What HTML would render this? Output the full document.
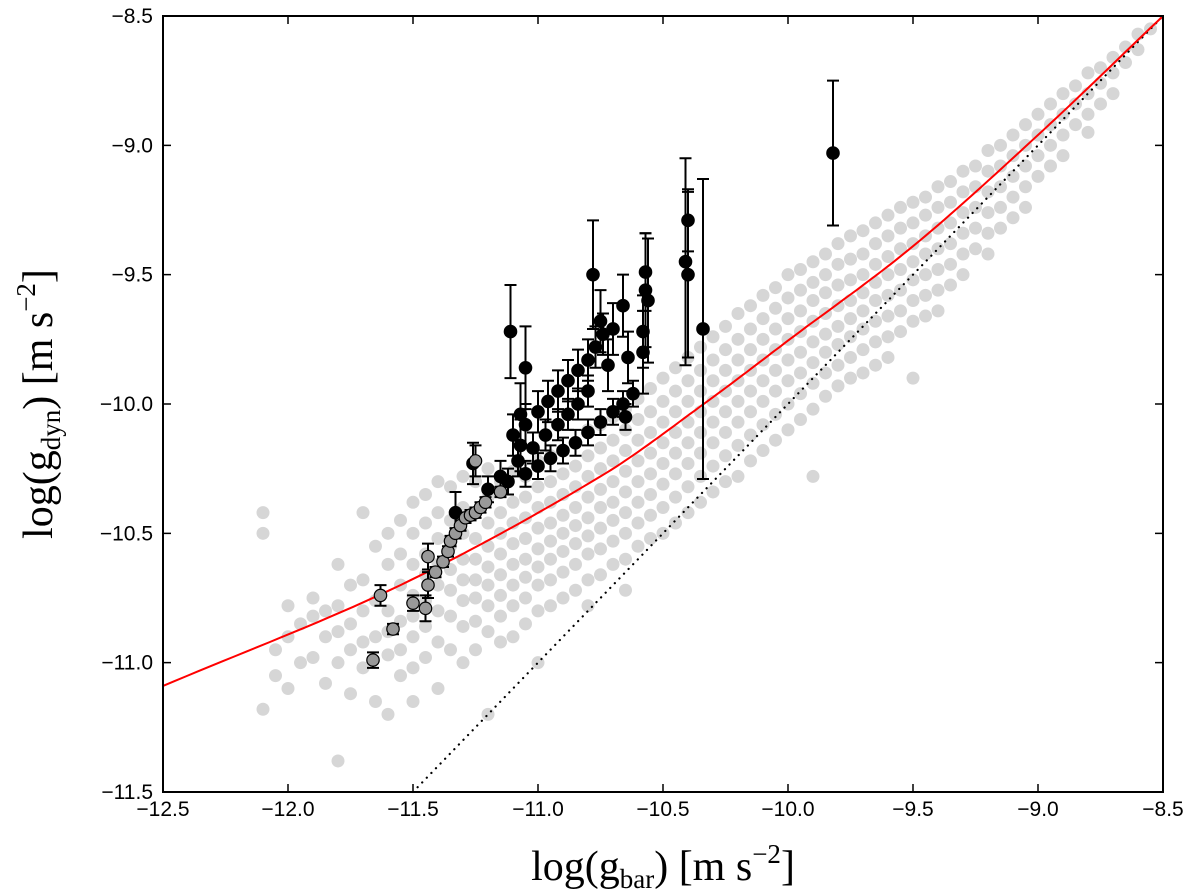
<!DOCTYPE html>
<html><head><meta charset="utf-8"><style>
html,body{margin:0;padding:0;background:#fff;}
svg{display:block;}
.tk{font-family:"Liberation Sans",sans-serif;font-size:21px;fill:#000;}
.lab{font-family:"Liberation Serif",serif;font-size:42px;fill:#000;}
</style></head><body>
<svg id="chart" width="1200" height="890">
<g id="cloud"></g>
<path id="onetoone" fill="none" stroke="#000" stroke-width="2.2" stroke-dasharray="0.1 6.5" stroke-linecap="round"/>
<path id="rar" fill="none" stroke="#f00" stroke-width="2"/>
<g id="errs"></g>
<g id="pts"></g>
<rect x="163" y="16" width="1000" height="776" fill="none" stroke="#000" stroke-width="2"/>
<g id="ticks"></g>
<text class="lab" x="663" y="880" text-anchor="middle">log(g<tspan font-size="27" dy="8">bar</tspan><tspan dy="-8">) [m s</tspan><tspan font-size="27" dy="-17">−2</tspan><tspan dy="17">]</tspan></text>
<text class="lab" transform="translate(52,404) rotate(-90)" text-anchor="middle">log(g<tspan font-size="27" dy="8">dyn</tspan><tspan dy="-8">) [m s</tspan><tspan font-size="27" dy="-17">−2</tspan><tspan dy="17">]</tspan></text>
</svg>
<script>
const xTicks=[-12.5,-12.0,-11.5,-11.0,-10.5,-10.0,-9.5,-9.0,-8.5];
const yTicks=[-8.5,-9.0,-9.5,-10.0,-10.5,-11.0,-11.5];
const curveX=[-12.5,-11.55,-10.75,-10.33,-10.0,-9.5,-9.0,-8.5];
const curveY=[-11.09,-10.70,-10.28,-9.995,-9.755,-9.39,-8.96,-8.5];
const cloudX=[-12.1,-12.05,-12.0,-11.95,-11.9,-11.85,-11.8,-11.75,-11.7,-11.65,-11.6,-11.55,-11.5,-11.45,-11.4,-11.35,-11.3,-11.25,-11.2,-11.15,-11.1,-11.05,-11.0,-10.95,-10.9,-10.85,-10.8,-10.75,-10.7,-10.65,-10.6,-10.55,-10.5,-10.45,-10.4,-10.35,-10.3,-10.25,-10.2,-10.15,-10.1,-10.05,-10.0,-9.95,-9.9,-9.85,-9.8,-9.75,-9.7,-9.65,-9.6,-9.55,-9.5,-9.45,-9.4,-9.35,-9.3,-9.25,-9.2,-9.15,-9.1,-9.05,-9.0,-8.95,-8.9,-8.85,-8.8,-8.75,-8.7,-8.65,-8.6,-8.55];
const cloudY=[
[-10.42,-10.5,-11.18],[-10.95,-11.05],[-10.78,-10.9,-11.1],[-10.85,-11.0],[-10.75,-10.82,-10.98],[-10.8,-10.9,-11.08],
[-10.62,-10.78,-10.88,-11.0,-11.38],[-10.7,-10.85,-10.95,-11.12],[-10.42,-10.68,-10.8,-10.92,-11.02],[-10.55,-10.76,-10.9,-11.15],
[-10.5,-10.62,-10.8,-10.88,-10.97,-11.2],[-10.45,-10.58,-10.7,-10.84,-10.95,-11.05],[-10.38,-10.5,-10.62,-10.74,-10.82,-10.9,-11.02,-11.15],
[-10.35,-10.46,-10.58,-10.66,-10.76,-10.86,-10.98],[-10.3,-10.42,-10.52,-10.62,-10.7,-10.8,-10.92,-11.1],[-10.32,-10.45,-10.55,-10.64,-10.72,-10.82,-10.95],
[-10.28,-10.4,-10.5,-10.6,-10.68,-10.76,-10.86,-11.0],[-10.3,-10.42,-10.52,-10.6,-10.68,-10.75,-10.84,-10.95],[-10.25,-10.36,-10.46,-10.55,-10.63,-10.7,-10.78,-10.88,-11.2],
[-10.3,-10.42,-10.5,-10.58,-10.66,-10.74,-10.82,-10.92],[-10.26,-10.38,-10.46,-10.54,-10.62,-10.7,-10.78,-10.9],[-10.28,-10.36,-10.44,-10.52,-10.6,-10.67,-10.75,-10.85],
[-10.22,-10.32,-10.4,-10.48,-10.56,-10.63,-10.7,-10.8,-11.0],[-10.2,-10.3,-10.38,-10.46,-10.53,-10.6,-10.68,-10.78],[-10.18,-10.27,-10.35,-10.43,-10.5,-10.57,-10.65,-10.75],
[-10.15,-10.24,-10.32,-10.4,-10.47,-10.54,-10.62,-10.72],[-10.1,-10.2,-10.28,-10.36,-10.44,-10.51,-10.58,-10.68,-10.78],[-10.08,-10.17,-10.25,-10.33,-10.4,-10.48,-10.56,-10.66],
[-10.05,-10.14,-10.22,-10.3,-10.38,-10.45,-10.53,-10.62],[-10.02,-10.1,-10.18,-10.26,-10.34,-10.42,-10.5,-10.6,-10.72],[-9.98,-10.06,-10.14,-10.22,-10.3,-10.38,-10.46,-10.55],
[-9.94,-10.03,-10.11,-10.19,-10.27,-10.35,-10.43,-10.52],[-9.9,-9.99,-10.07,-10.15,-10.23,-10.31,-10.4,-10.5],[-9.86,-9.95,-10.03,-10.11,-10.19,-10.27,-10.36,-10.46],
[-9.82,-9.91,-9.99,-10.07,-10.15,-10.23,-10.32,-10.42],[-9.78,-9.87,-9.95,-10.03,-10.11,-10.19,-10.28,-10.38],[-9.74,-9.83,-9.91,-9.99,-10.07,-10.15,-10.24,-10.34],
[-9.7,-9.79,-9.87,-9.95,-10.03,-10.11,-10.2,-10.3],[-9.65,-9.75,-9.83,-9.91,-9.99,-10.07,-10.16,-10.28],[-9.62,-9.71,-9.79,-9.87,-9.95,-10.03,-10.12,-10.22],
[-9.58,-9.67,-9.75,-9.83,-9.91,-9.99,-10.08,-10.18],[-9.55,-9.63,-9.71,-9.79,-9.87,-9.95,-10.04,-10.14],[-9.5,-9.59,-9.67,-9.75,-9.83,-9.91,-10.0,-10.1],
[-9.48,-9.56,-9.64,-9.72,-9.8,-9.88,-9.96,-10.06],[-9.45,-9.53,-9.6,-9.68,-9.76,-9.84,-9.92,-10.02,-10.28],[-9.42,-9.5,-9.57,-9.65,-9.73,-9.8,-9.88,-9.97],
[-9.38,-9.46,-9.54,-9.62,-9.7,-9.77,-9.85,-9.93],[-9.35,-9.44,-9.52,-9.6,-9.67,-9.74,-9.82,-9.9],[-9.33,-9.42,-9.5,-9.57,-9.64,-9.71,-9.79,-9.88],
[-9.3,-9.38,-9.46,-9.53,-9.6,-9.68,-9.76,-9.85],[-9.27,-9.35,-9.43,-9.5,-9.58,-9.66,-9.74,-9.82],[-9.24,-9.32,-9.4,-9.48,-9.56,-9.64,-9.72],
[-9.22,-9.3,-9.38,-9.45,-9.52,-9.6,-9.68,-9.9],[-9.2,-9.27,-9.35,-9.42,-9.5,-9.58,-9.66],[-9.16,-9.24,-9.32,-9.4,-9.48,-9.56,-9.64],
[-9.14,-9.22,-9.3,-9.38,-9.46,-9.54],[-9.1,-9.18,-9.26,-9.34,-9.42,-9.5],[-9.08,-9.16,-9.24,-9.32,-9.4],
[-9.02,-9.1,-9.18,-9.26,-9.34,-9.42],[-9.0,-9.08,-9.16,-9.24,-9.32],[-8.96,-9.04,-9.12,-9.2,-9.28],
[-8.92,-9.0,-9.08,-9.16,-9.24],[-8.88,-8.96,-9.04,-9.12],[-8.84,-8.92,-9.0,-9.08],
[-8.8,-8.88,-8.96,-9.04],[-8.77,-8.84,-8.92],[-8.72,-8.8,-8.88,-8.95],
[-8.7,-8.76,-8.84],[-8.66,-8.72,-8.8],[-8.62,-8.68],[-8.57,-8.63],[-8.55]];
const blackX=[-9.82,-10.34,-10.40,-10.41,-10.40,-10.57,-10.57,-10.56,-10.58,-10.58,-10.66,-10.64,-10.70,-10.72,-10.75,-10.78,-11.11,-11.05,-11.07,-11.07,-11.26,-11.33,-11.10,-11.05,-11.0,-10.96,-10.92,-10.88,-10.84,-10.80,-10.77,-10.74,-11.15,-11.08,-11.02,-10.97,-10.92,-10.88,-10.84,-10.80,-11.20,-11.12,-11.05,-11.0,-10.95,-10.90,-10.85,-10.80,-10.75,-10.70,-10.66,-10.62,-10.65];
const blackY=[-9.03,-9.71,-9.29,-9.45,-9.50,-9.49,-9.56,-9.60,-9.72,-9.80,-9.62,-9.82,-9.71,-9.85,-9.68,-9.50,-9.72,-9.86,-10.04,-10.16,-10.23,-10.42,-10.12,-10.08,-10.03,-9.99,-9.95,-9.91,-9.87,-9.83,-9.78,-9.73,-10.28,-10.22,-10.17,-10.12,-10.08,-10.04,-10.0,-9.95,-10.33,-10.30,-10.27,-10.24,-10.21,-10.18,-10.15,-10.11,-10.07,-10.03,-10.0,-9.96,-10.05];
const blackErr=[0.28,0.58,0.12,0.4,0.32,0.15,0.22,0.24,0.14,0.16,0.12,0.1,0.1,0.1,0.12,0.21,0.18,0.16,0.12,0.1,0.08,0.08,0.08,0.08,0.08,0.08,0.08,0.08,0.08,0.08,0.08,0.08,0.06,0.06,0.06,0.06,0.06,0.06,0.06,0.06,0.05,0.05,0.05,0.05,0.05,0.05,0.05,0.05,0.05,0.05,0.05,0.05,0.05];
const greyX=[-11.25,-11.63,-11.58,-11.66,-11.50,-11.45,-11.44,-11.44,-11.41,-11.38,-11.36,-11.35,-11.33,-11.31,-11.29,-11.27,-11.25,-11.23,-11.21,-11.15];
const greyY=[-10.22,-10.74,-10.87,-10.99,-10.77,-10.79,-10.70,-10.59,-10.65,-10.61,-10.57,-10.53,-10.50,-10.47,-10.44,-10.43,-10.42,-10.40,-10.38,-10.34];
const greyErr=[0.06,0.04,0.02,0.03,0.03,0.05,0.05,0.05,0.02,0.02,0.02,0.02,0.02,0.02,0.02,0.02,0.02,0.02,0.02,0.02];

const NS='http://www.w3.org/2000/svg';
const X=v=>163+(v+12.5)*250;
const Y=v=>16+(-8.5-v)*776/3;
function mk(t,a,p){const e=document.createElementNS(NS,t);for(const k in a)e.setAttribute(k,a[k]);p.appendChild(e);return e;}

const cloud=document.getElementById('cloud');
cloudX.forEach((gx,i)=>cloudY[i].forEach(gy=>{
  const c=mk('circle',{cx:X(gx),cy:Y(gy),r:6.5,fill:'#999','fill-opacity':0.4},cloud);
  
  
}));

document.getElementById('onetoone').setAttribute('d',`M${X(-11.5)},${Y(-11.5)}L${X(-8.5)},${Y(-8.5)}`);

(function(){
  const n=curveX.length,m=[];
  for(let i=0;i<n;i++){
    const a=Math.max(0,i-1),b=Math.min(n-1,i+1);
    m.push((curveY[b]-curveY[a])/(curveX[b]-curveX[a]));
  }
  let d='';
  for(let i=0;i<n-1;i++){
    const h=curveX[i+1]-curveX[i];
    for(let s=0;s<=20;s++){
      const t=s/20,t2=t*t,t3=t2*t;
      const y=(2*t3-3*t2+1)*curveY[i]+(t3-2*t2+t)*h*m[i]+(-2*t3+3*t2)*curveY[i+1]+(t3-t2)*h*m[i+1];
      const x=curveX[i]+t*h;
      d+=(d?'L':'M')+X(x).toFixed(1)+','+Y(y).toFixed(1);
    }
  }
  document.getElementById('rar').setAttribute('d',d);
})();

const errs=document.getElementById('errs'),pts=document.getElementById('pts');
function drawSet(xs,ys,es,fill,name){
  xs.forEach((gx,i)=>{
    const cx=X(gx),y1=Y(ys[i]+es[i]),y2=Y(ys[i]-es[i]);
    const l=mk('path',{d:`M${cx},${y1}L${cx},${y2}M${cx-6},${y1}L${cx+6},${y1}M${cx-6},${y2}L${cx+6},${y2}`,stroke:'#000','stroke-width':2,fill:'none'},errs);
    
    
    const c=mk('circle',{cx:cx,cy:Y(ys[i]),r:6.2,fill:fill,stroke:'#000','stroke-width':1.2},pts);
    
    
  });
}
drawSet(blackX,blackY,blackErr,'#000','black-point');
drawSet(greyX,greyY,greyErr,'#999','grey-point');

const tg=document.getElementById('ticks');
const fmt=v=>(v<0?'\u2212':'')+Math.abs(v).toFixed(1);
xTicks.forEach(v=>{
  const x=X(v);
  mk('path',{d:`M${x},792v-8M${x},16v8`,stroke:'#000','stroke-width':1.5},tg);
  const t=mk('text',{x:x,y:816,'text-anchor':'middle',class:'tk'},tg);t.textContent=fmt(v);
  
  
});
yTicks.forEach(v=>{
  const y=Y(v);
  mk('path',{d:`M163,${y}h8M1163,${y}h-8`,stroke:'#000','stroke-width':1.5},tg);
  const t=mk('text',{x:153,y:y+7,'text-anchor':'end',class:'tk'},tg);t.textContent=fmt(v);
  
  
});
</script>
</body></html>
